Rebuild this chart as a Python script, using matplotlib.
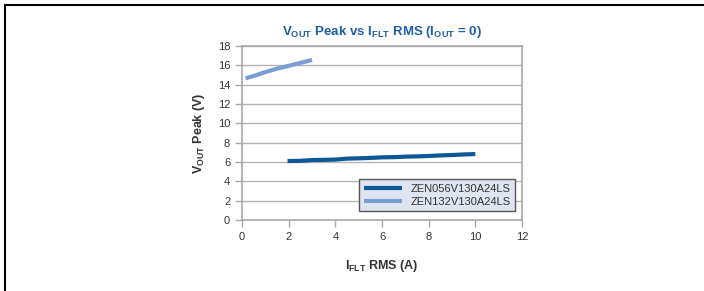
import numpy as np
import matplotlib.pyplot as plt
from matplotlib.lines import Line2D

plt.rcParams['font.family'] = ['Liberation Sans', 'DejaVu Sans']
plt.rcParams['mathtext.fontset'] = 'custom'
plt.rcParams['mathtext.rm'] = 'Liberation Sans'
plt.rcParams['mathtext.bf'] = 'Liberation Sans:bold'

# Data
x_056 = [1.95, 2.5, 3.0, 3.5, 4.0, 4.5, 5.0, 5.5, 6.0, 6.5, 7.0, 7.5, 8.0, 8.5, 9.0, 9.5, 10.0]
y_056 = [6.10, 6.12, 6.20, 6.22, 6.25, 6.35, 6.38, 6.42, 6.48, 6.50, 6.55, 6.58, 6.62, 6.68, 6.72, 6.78, 6.82]
x_132 = [0.15, 0.5, 1.0, 1.5, 2.0, 2.5, 3.0]
y_132 = [14.65, 14.90, 15.30, 15.65, 15.95, 16.25, 16.55]
names = ["ZEN056V130A24LS", "ZEN132V130A24LS"]

fig = plt.figure(figsize=(7.04, 2.91), dpi=100)
ax = fig.add_axes([0.3438, 0.244, 0.3977, 0.598])

ax.plot(x_056, y_056, color="#0d5896", lw=3.0, label=names[0], solid_capstyle="butt")
ax.plot(x_132, y_132, color="#7b9ed2", lw=3.0, label=names[1], solid_capstyle="butt")

ax.set_xlim(0, 12)
ax.set_ylim(0, 18)
ax.set_xticks(np.arange(0, 13, 2))
ax.set_yticks(np.arange(0, 19, 2))
ax.yaxis.grid(True, color="#b4b4b4", lw=1)
ax.set_axisbelow(True)
for s in ax.spines.values():
    s.set_color("#a8a8a8")
    s.set_linewidth(1.2)
ax.tick_params(colors="#a8a8a8", labelcolor="#333333", labelsize=8, length=5, width=1)

ax.set_title(r"$\mathbf{V_{OUT}}$ Peak vs $\mathbf{I_{FLT}}$ RMS ($\mathbf{I_{OUT}}$ = 0)",
             color="#1d5fa6", fontsize=9.5, fontweight="bold", pad=8)
ax.set_xlabel(r"$\mathbf{I_{FLT}}$ RMS (A)", fontsize=9, fontweight="bold", color="#333333", labelpad=12)
ax.set_ylabel(r"$\mathbf{V_{OUT}}$ Peak (V)", fontsize=9, fontweight="bold", color="#333333", labelpad=8)

leg = ax.legend(loc="lower right", fontsize=8, frameon=True, fancybox=False,
                borderpad=0.4, handlelength=3.4, labelspacing=0.25,
                bbox_to_anchor=(0.995, 0.02))
leg.get_frame().set_facecolor("#dfe5f0")
leg.get_frame().set_edgecolor("#555555")
leg.get_frame().set_linewidth(1)
leg.get_frame().set_alpha(1)
for t in leg.get_texts():
    t.set_color("#333333")

# outer border (top and left)
fig.add_artist(Line2D([5/704, 5/704], [0, 1 - 5/291], color="black", lw=1.5))
fig.add_artist(Line2D([5/704, 1], [1 - 5/291, 1 - 5/291], color="black", lw=1.5))

plt.savefig("out.png", dpi=100)
